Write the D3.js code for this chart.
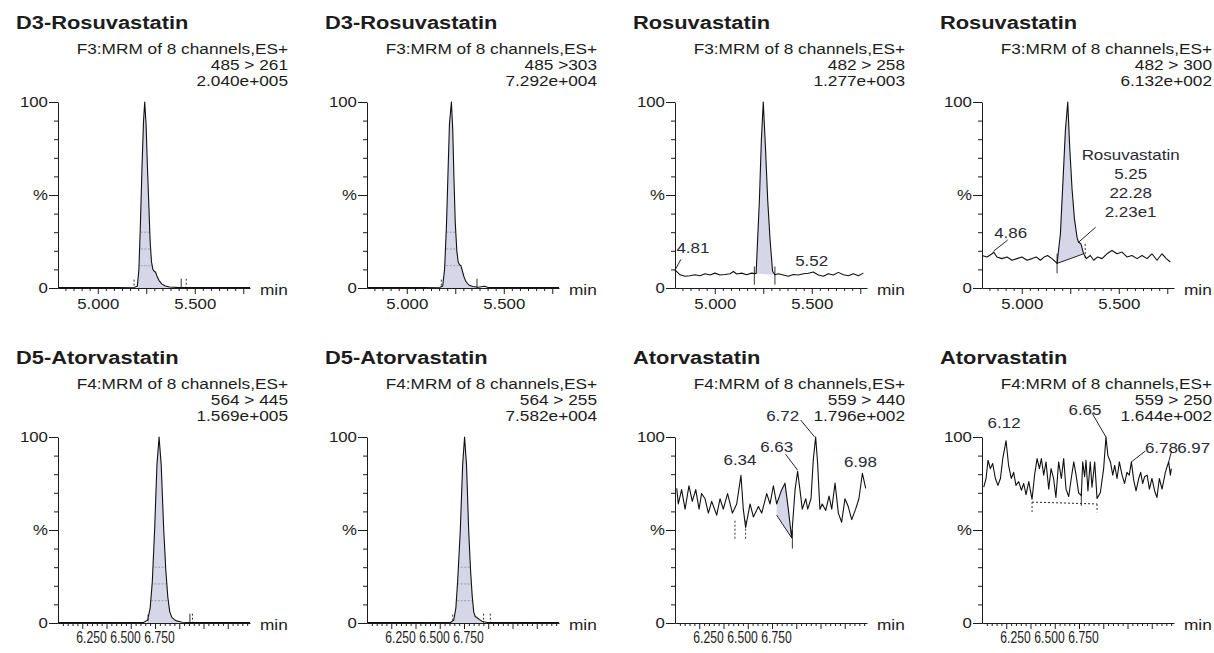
<!DOCTYPE html>
<html>
<head>
<meta charset="utf-8">
<script src="https://cdn.jsdelivr.net/npm/d3@7"></script>
<style>
  body { margin: 0; background: #fff; }
  svg { display: block; }
  text { font-family: "Liberation Sans", Arial, sans-serif; fill: #1c1c1c; }
</style>
</head>
<body>
<div id="chart"></div>
<script>
// ---------- data ----------
var titles = ['D3-Rosuvastatin', 'D3-Rosuvastatin', 'Rosuvastatin', 'Rosuvastatin',
              'D5-Atorvastatin', 'D5-Atorvastatin', 'Atorvastatin', 'Atorvastatin'];
var scanFunctions = ['F3:MRM of 8 channels,ES+', 'F3:MRM of 8 channels,ES+', 'F3:MRM of 8 channels,ES+', 'F3:MRM of 8 channels,ES+',
                     'F4:MRM of 8 channels,ES+', 'F4:MRM of 8 channels,ES+', 'F4:MRM of 8 channels,ES+', 'F4:MRM of 8 channels,ES+'];
var transitions = ['485 > 261', '485 >303', '482 > 258', '482 > 300', '564 > 445', '564 > 255', '559 > 440', '559 > 250'];
var intensities = ['2.040e+005', '7.292e+004', '1.277e+003', '6.132e+002', '1.569e+005', '7.582e+004', '1.796e+002', '1.644e+002'];

var rowStart = [4.795, 6.0];
var xMajorTicks = [[5.0, 5.25, 5.5, 5.75], [6.125, 6.25, 6.375, 6.5, 6.625, 6.75, 6.875]];
var xTickLabels = [[5.0, 5.5], [6.25, 6.5, 6.75]];
var yTicks = [0, 50, 100];
var yMinorTicks = [10, 20, 30, 40, 60, 70, 80, 90];

// [time (min), intensity (%)]
var trace1 = [[4.795,0.2],[5.0,0.2],[5.19,0.4],[5.204,1],[5.212,10],[5.22,35],[5.228,65],[5.236,90],[5.242,100],[5.249,88],
  [5.256,65],[5.263,45],[5.27,25],[5.277,14],[5.284,10],[5.291,9],[5.298,8.5],[5.305,6.5],[5.316,4],[5.33,2.2],[5.345,1.2],
  [5.37,0.5],[5.42,0.2],[5.785,0.2]];
var trace2 = [[4.795,0.2],[5.0,0.2],[5.17,0.4],[5.185,1],[5.195,10],[5.205,35],[5.212,60],[5.22,88],[5.23,100],[5.237,85],
  [5.243,60],[5.25,35],[5.258,20],[5.265,14],[5.272,12.5],[5.279,12],[5.287,9],[5.295,6],[5.305,3.5],[5.32,1.6],[5.34,0.8],
  [5.37,0.4],[5.4,0.9],[5.42,0.3],[5.785,0.2]];
var trace3 = [[4.795,9.8],[4.821,7.1],[4.847,6.3],[4.872,6.6],[4.898,7.1],[4.924,6.6],[4.95,7.7],[4.975,7.0],[5.001,8.0],
  [5.027,7.0],[5.053,7.3],[5.079,7.7],[5.096,8.9],[5.113,7.5],[5.139,8.0],[5.164,7.1],[5.19,8.0],[5.213,7.7],[5.23,47],
  [5.24,79],[5.25,100],[5.262,74],[5.273,47],[5.285,26],[5.298,9],[5.31,7.1],[5.328,7.7],[5.353,7.0],[5.379,6.3],[5.405,7.3],
  [5.431,7.0],[5.457,7.7],[5.482,7.9],[5.508,8.6],[5.534,7.0],[5.56,6.3],[5.585,7.7],[5.611,7.0],[5.637,8.4],[5.663,7.1],
  [5.689,6.6],[5.714,7.7],[5.74,6.6],[5.766,8.0]];
var trace4 = [[4.795,17.5],[4.821,16.7],[4.847,18.4],[4.855,19.3],[4.872,16.7],[4.898,15.8],[4.924,16.7],[4.95,14.9],
  [4.975,15.8],[5.001,16.7],[5.027,14.9],[5.053,15.8],[5.075,16.7],[5.096,14.9],[5.116,16.7],[5.133,17.5],[5.156,15.8],
  [5.182,13.2],[5.199,29],[5.213,58.8],[5.225,85],[5.237,100],[5.247,76],[5.259,53.5],[5.271,37.7],[5.285,27.2],[5.293,24.6],
  [5.305,23.7],[5.319,18.4],[5.333,15.8],[5.353,17.5],[5.371,14.9],[5.391,16.7],[5.414,15.8],[5.439,18.4],[5.465,20.2],
  [5.491,18.4],[5.517,19.3],[5.542,16.7],[5.568,17.5],[5.594,15.8],[5.62,17.5],[5.646,15.8],[5.671,18.4],[5.697,14.9],
  [5.723,18.4],[5.745,15.8],[5.766,14]];
var trace5 = [[6.0,0.2],[6.2,0.2],[6.44,0.3],[6.462,1.5],[6.475,8],[6.486,22],[6.498,50],[6.51,85],[6.521,100],[6.532,85],
  [6.545,50],[6.556,28],[6.566,14],[6.576,6],[6.587,3],[6.6,1.8],[6.615,1],[6.64,0.4],[6.7,0.2],[6.99,0.2]];
var trace6 = [[6.0,0.2],[6.2,0.2],[6.43,0.3],[6.447,1.5],[6.458,8],[6.467,22],[6.481,50],[6.493,85],[6.503,100],[6.513,85],
  [6.524,50],[6.534,28],[6.542,15],[6.55,6],[6.558,3.5],[6.568,2.8],[6.58,1.8],[6.595,0.8],[6.62,0.3],[6.99,0.2]];
var trace7 = [[6.009,72.4],[6.017,64],[6.034,71.7],[6.052,61.2],[6.072,73.8],[6.089,65.4],[6.107,71.7],[6.124,61.2],
  [6.137,69.6],[6.155,66.8],[6.172,59.1],[6.189,65.4],[6.215,58],[6.232,66.8],[6.249,61.2],[6.271,69.6],[6.296,59.1],
  [6.318,64],[6.34,79.4],[6.352,61.2],[6.364,51.4],[6.387,64],[6.404,57],[6.43,62.6],[6.447,59.1],[6.473,69.6],[6.49,64],
  [6.507,73.8],[6.524,64],[6.55,71.7],[6.567,75.2],[6.584,61.2],[6.601,45.8],[6.619,71.7],[6.632,81.6],[6.644,71.7],
  [6.656,61.2],[6.674,66.8],[6.684,61.2],[6.701,66.8],[6.713,88],[6.725,100],[6.735,86],[6.747,61.2],[6.759,64],
  [6.777,60.5],[6.794,68.2],[6.808,61.2],[6.825,75.2],[6.842,59.1],[6.859,54.2],[6.876,66.8],[6.893,62.6],[6.911,55.6],
  [6.931,61.2],[6.948,66.8],[6.966,80.5],[6.983,72.4]];
var trace8 = [[6.009,73],[6.021,77.7],[6.031,87.5],[6.043,83],[6.055,85.7],[6.069,77.7],[6.082,74],[6.095,77.7],[6.107,88.4],
  [6.124,98],[6.137,84.8],[6.151,77.7],[6.163,81],[6.175,74],[6.189,76],[6.203,71.4],[6.215,75],[6.227,69],[6.241,76],
  [6.258,66.5],[6.271,79.5],[6.284,88.4],[6.296,83],[6.306,88.4],[6.318,79.5],[6.33,86.6],[6.344,72],[6.356,83],[6.369,77.7],
  [6.381,67.5],[6.395,86.6],[6.409,77.7],[6.421,88.4],[6.433,72],[6.447,68],[6.46,77.7],[6.473,86.6],[6.485,79.5],
  [6.498,70],[6.512,68.5],[6.519,86.6],[6.529,78.6],[6.536,87.5],[6.546,71],[6.558,86.6],[6.567,73],[6.581,86.6],
  [6.593,67],[6.61,70],[6.627,83],[6.639,100],[6.649,90],[6.662,86.6],[6.674,79.5],[6.684,84.8],[6.696,77.7],[6.708,86.6],
  [6.722,79.5],[6.735,75],[6.747,81],[6.759,79.5],[6.77,86.6],[6.782,76.8],[6.794,71],[6.808,77.7],[6.818,81],[6.828,75],
  [6.838,78.6],[6.851,79.5],[6.863,72],[6.876,77.7],[6.89,71],[6.902,67.5],[6.914,77.7],[6.928,72],[6.945,81],[6.962,86.6],
  [6.971,79.5],[6.976,83]];
var traces = [trace1, trace2, trace3, trace4, trace5, trace6, trace7, trace8];

// integrated area: [start time, end time, baseline % at start, baseline % at end]
var fills = [[5.204, 5.37, 0, 0], [5.185, 5.37, 0, 0], [5.213, 5.31, 7.7, 7.1], [5.182, 5.319, 13.2, 18.4],
             [6.462, 6.615, 0, 0], [6.447, 6.595, 0, 0], [6.524, 6.601, 58, 45.8], null];
// drawn integration baselines: [t1, v1, t2, v2, kind]
var baselines = [[], [], [], [[5.182, 13.2, 5.319, 18.4, 'solid']], [], [], [[6.524, 58, 6.601, 45.8, 'solid']],
                 [[6.258, 65, 6.593, 64, 'dot']]];
// peak start/end markers: [time, top %, bottom %, kind]
var markers = [
  [[5.187, 4.5, 0, 'dot'], [5.43, 5, 0, 'solid'], [5.456, 5, 0, 'dot']],
  [[5.178, 4.5, 0, 'dot'], [5.362, 5, 0, 'solid']],
  [[5.204, 11.6, 1.8, 'solid'], [5.31, 11.6, 1.8, 'solid']],
  [[5.182, 18.4, 7.9, 'solid'], [5.327, 23.7, 14.9, 'dot']],
  [[6.464, 4.5, 0, 'dot'], [6.68, 5, 0, 'solid'], [6.693, 5, 0, 'dot']],
  [[6.442, 4.5, 0, 'dot'], [6.601, 5, 0, 'dot'], [6.636, 5, 0, 'dot']],
  [[6.309, 55, 45, 'dot'], [6.364, 55, 45, 'dot'], [6.605, 50, 40, 'solid']],
  [[6.258, 65, 59.5, 'dot'], [6.593, 64, 59.5, 'dot'], [6.512, 70.5, 63, 'solid']]
];
// peak annotations: [text, time, %]
var peaks = [[], [],
  [['4.81', 4.81, 9.5], ['5.52', 5.52, 8.0]],
  [['4.86', 4.855, 19.3], ['Rosuvastatin\n5.25\n22.28\n2.23e1', 5.293, 24.6]],
  [], [],
  [['6.34', 6.34, 79.4], ['6.63', 6.632, 81.6], ['6.72', 6.725, 100], ['6.98', 6.966, 80.5]],
  [['6.12', 6.124, 98], ['6.65', 6.639, 100], ['6.78', 6.77, 86.6], ['6.97', 6.962, 86.6]]
];

// ---------- layout ----------
var W = 1214, H = 653;
var colX = [58, 367, 675, 982];
var rowTop = [0, 335];
var axisLen = 192, pxPerMin = 194;
var SX = 1.15;
var hatchLevels = [12, 21, 30];
// label offsets from the peak: [dx, dy, leader x1, y1, x2, y2]
var peakLayout = [[], [],
  [[15, -17, 3, -11, -3, 0], [-4, -7]],
  [[17, -14, 14, -12, 0, -1], [52, -82, 17, -15, 0, 0]],
  [], [],
  [[-1, -10], [-21, -19, -12, -17, 0, -1], [-33, -16, -15, -17, -1, 0], [-2, -6]],
  [[-2, -13], [-21, -22, -14, -24, 0, 0], [30, -9, 14, -11, 0, 0], [25, -9, 3, -11, 0, 0]]
];

var svg = d3.select('#chart').append('svg').attr('width', W).attr('height', H);

function addText(g, x, y, str, size, anchor, sx, weight) {
  return g.append('text')
    .attr('transform', `translate(${x},${y}) scale(${sx},1)`)
    .attr('text-anchor', anchor)
    .style('font-size', size + 'px')
    .style('font-weight', weight || 'normal')
    .text(str);
}

function styleAxis(sel, sx, size) {
  sel.attr('font-family', null).attr('font-size', null).style('color', '#1c1c1c');
  sel.selectAll('line').attr('stroke-width', 1);
  sel.selectAll('path').attr('stroke-width', 1);
  sel.selectAll('text').style('font-size', (size || 15) + 'px')
    .attr('transform', `scale(${sx},1)`);
}

titles.forEach(function (title, i) {
  var row = Math.floor(i / 4), col = i % 4;
  var g = svg.append('g').attr('transform', `translate(${colX[col]},${rowTop[row]})`);
  var t0 = rowStart[row];
  var x = d3.scaleLinear().domain([t0, t0 + axisLen / pxPerMin]).range([0, axisLen]);
  var y = d3.scaleLinear().domain([0, 100]).range([288, 102]);

  // headers
  addText(g, -42, 29, title, 19, 'start', SX, 'bold');
  addText(g, 230, 54, scanFunctions[i], 15, 'end', SX);
  addText(g, 230, 70, transitions[i], 15, 'end', SX);
  addText(g, 230, 86, intensities[i], 15, 'end', SX);

  // integrated area
  var f = fills[i];
  if (f) {
    var base = d3.scaleLinear().domain([f[0], f[1]]).range([f[2], f[3]]);
    var pts = traces[i].filter(d => d[0] >= f[0] - 1e-6 && d[0] <= f[1] + 1e-6);
    var area = d3.area()
      .x(d => x(d[0]))
      .y0(d => y(base(d[0])))
      .y1(d => y(d[1]));
    g.append('path').datum(pts).attr('fill', '#d6d6e8').attr('d', area);

    if (f[2] === 0) {
      // faint scan hatching inside the integrated peak
      var clipId = 'clip' + i;
      g.append('clipPath').attr('id', clipId).append('path').datum(pts).attr('d', area);
      g.append('g').attr('clip-path', `url(#${clipId})`)
        .selectAll('line').data(hatchLevels).join('line')
        .attr('x1', x(f[0])).attr('x2', x(f[1]))
        .attr('y1', d => y(d)).attr('y2', d => y(d))
        .attr('stroke', '#9c9cae').attr('stroke-width', 1)
        .attr('stroke-dasharray', '2,1.5');
    }
  }

  // x axis
  var minors = row === 0
    ? d3.range(-4, 19).map(k => 5 + k * 0.25 / 6)
    : d3.range(1, 40).map(k => 6 + k * 0.025);
  minors = minors.filter(v => v > x.domain()[0] && v < x.domain()[1] &&
    !xMajorTicks[row].some(m => Math.abs(m - v) < 1e-6));
  var xMin = g.append('g').attr('transform', `translate(0,${y(0)})`)
    .call(d3.axisBottom(x).tickValues(minors).tickSize(3).tickFormat(''));
  xMin.select('.domain').remove();
  var xMaj = g.append('g').attr('transform', `translate(0,${y(0)})`)
    .call(d3.axisBottom(x).tickValues(xMajorTicks[row]).tickSize(6).tickSizeOuter(0).tickFormat(''));
  styleAxis(xMin, 1);
  styleAxis(xMaj, 1);

  // the lower row prints its time labels squeezed together
  var labScale = row === 0 ? x : d3.scaleLinear().domain([6.25, 6.75]).range([33, 101]);
  var xLab = g.append('g').attr('transform', `translate(0,${y(0)})`)
    .call(d3.axisBottom(labScale).tickValues(xTickLabels[row]).tickSize(0).tickPadding(row === 0 ? 10 : 9)
      .tickFormat(d3.format('.3f')));
  xLab.select('.domain').remove();
  styleAxis(xLab, row === 0 ? 1.12 : 0.76, row === 0 ? 15 : 16);

  addText(g, 202, y(0) + 7, 'min', 15, 'start', SX);

  // y axis
  var yMin = g.append('g').call(d3.axisLeft(y).tickValues(yMinorTicks).tickSize(4).tickFormat(''));
  yMin.select('.domain').remove();
  var yMaj = g.append('g').call(d3.axisLeft(y).tickValues(yTicks).tickSize(9).tickSizeOuter(0).tickPadding(0)
    .tickFormat(d => d === 50 ? '%' : d));
  styleAxis(yMin, 1);
  styleAxis(yMaj, 1.12);

  // integration baselines and markers
  baselines[i].forEach(function (b) {
    g.append('line')
      .attr('x1', x(b[0])).attr('y1', y(b[1]))
      .attr('x2', x(b[2])).attr('y2', y(b[3]))
      .attr('stroke', '#222').attr('stroke-width', 1)
      .attr('stroke-dasharray', b[4] === 'dot' ? '2,2' : null);
  });
  markers[i].forEach(function (m) {
    g.append('line')
      .attr('x1', x(m[0])).attr('y1', y(m[1]))
      .attr('x2', x(m[0])).attr('y2', y(m[2]))
      .attr('stroke', '#333').attr('stroke-width', 1)
      .attr('stroke-dasharray', m[3] === 'dot' ? '2,2' : null);
  });

  // trace
  g.append('path')
    .datum(traces[i])
    .attr('fill', 'none')
    .attr('stroke', '#111')
    .attr('stroke-width', 1.1)
    .attr('stroke-linejoin', 'round')
    .attr('d', d3.line().x(d => x(d[0])).y(d => y(d[1])));

  // peak labels
  peaks[i].forEach(function (p, k) {
    var lay = peakLayout[i][k];
    var px = x(p[1]), py = y(p[2]);
    p[0].split('\n').forEach(function (line, n) {
      addText(g, px + lay[0], py + lay[1] + n * 19, line, 15, 'middle', 1.13).style('fill', '#2a2a33');
    });
    if (lay.length > 2) {
      g.append('line')
        .attr('x1', px + lay[2]).attr('y1', py + lay[3])
        .attr('x2', px + lay[4]).attr('y2', py + lay[5])
        .attr('stroke', '#222').attr('stroke-width', 1);
    }
  });
});
</script>
</body>
</html>
